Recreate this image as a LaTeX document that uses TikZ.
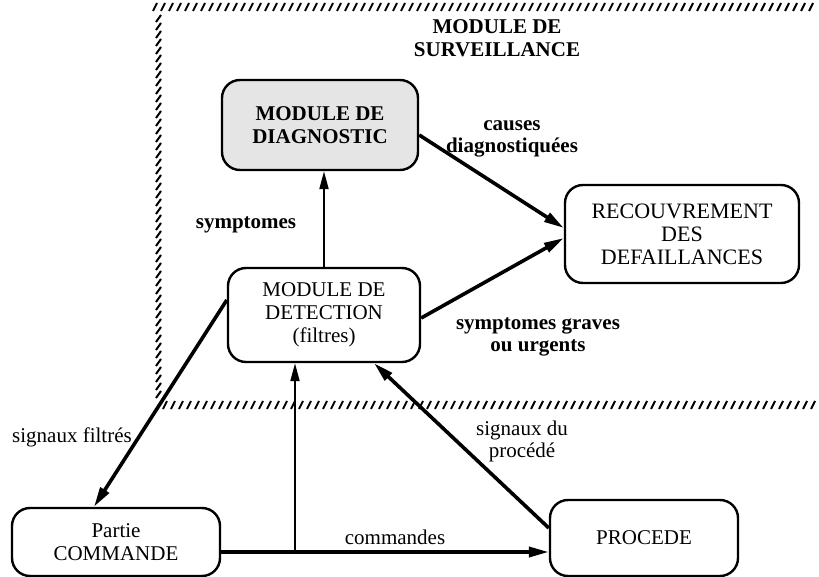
\documentclass[tikz,border=0pt]{standalone}
\usepackage{fontspec}
\setmainfont{Liberation Serif}
\usetikzlibrary{arrows.meta,calc}
\begin{document}
\begin{tikzpicture}[x=1pt,y=-1pt,
  box/.style={draw,line width=2.4pt,rounded corners=18pt,align=center,inner sep=0pt,
              font=\fontsize{21}{23}\selectfont},
  lbl/.style={align=center,inner sep=0pt,font=\fontsize{21}{22}\selectfont},
  blbl/.style={lbl,font=\fontsize{21}{22}\selectfont\bfseries},
  heavy/.style={line width=3.6pt,-{Triangle[length=20pt,width=10pt]}},
  light/.style={line width=2pt,-{Triangle[length=18pt,width=9pt]}},
  hatch/.style={line width=2pt}]
\useasboundingbox (0,0) rectangle (819,577);

% hatched frame of the supervision module
\foreach \x in {153,161,...,815} \draw[hatch] (\x,11) -- (\x+4,3);
\foreach \y in {18,26,...,398} \draw[hatch] (156,\y+4) -- (161,\y-3);
\foreach \x in {163,171,...,815} \draw[hatch] (\x,409) -- (\x+4,401);

\node[blbl,font=\fontsize{21}{23}\selectfont\bfseries] (title) at (497,38) {MODULE DE\\SURVEILLANCE};

% modules
\node[box,fill=black!10,font=\fontsize{21}{23}\selectfont\bfseries,
      minimum width=196pt,minimum height=90pt] (diag) at (320,125) {MODULE DE\\DIAGNOSTIC};
\node[box,font=\fontsize{22}{23}\selectfont,
      minimum width=234pt,minimum height=98pt] (rec) at (682,234) {RECOUVREMENT\\DES\\DEFAILLANCES};
\node[box,minimum width=192pt,minimum height=94pt] (det) at (324,315) {MODULE DE\\DETECTION\\(filtres)};
\node[box,minimum width=208pt,minimum height=68pt] (cmd) at (116,542) {Partie\\COMMANDE};
\node[box,minimum width=188pt,minimum height=76pt] (proc) at (644,538) {PROCEDE};

% flows
\draw[light] (det.north) -- (det.north |- diag.south);
\draw[heavy] ([yshift=-10pt]diag.east) -- ([yshift=6pt]rec.west);
\draw[heavy] ([yshift=-3pt]det.east) -- ([yshift=-4pt]rec.west);
\draw[heavy] ([yshift=15pt]det.west) -- ([xshift=-22pt]cmd.north);
\draw[heavy] ([yshift=10pt]proc.west) -- ([xshift=50pt]det.south);

\coordinate (br) at (295,552);
\draw[heavy] (cmd.east |- br) -- (proc.west |- br);
\draw[light] (br) -- (br |- det.south);

% labels
\node[blbl] (lsym) at (246,225) {symptomes};
\node[blbl] (lcause) at (512,139) {causes\\diagnostiquées};
\node[blbl] (lgrave) at (538,337) {symptomes graves\\ou urgents};
\node[lbl] (lfilt) at (72,437) {signaux filtrés};
\node[lbl] (lproc) at (522,441) {signaux du\\procédé};
\node[lbl] (lcmd) at (395,537) {commandes};
\end{tikzpicture}
\end{document}
